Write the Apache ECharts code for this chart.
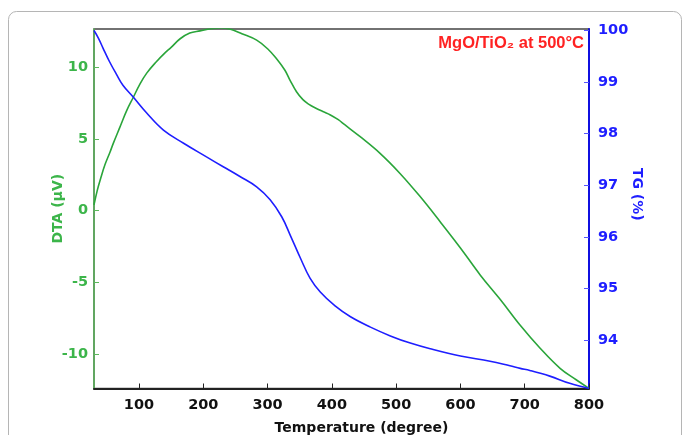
<!DOCTYPE html>
<html>
<head>
<meta charset="utf-8">
<script src="https://cdn.jsdelivr.net/npm/echarts@6/dist/echarts.min.js"></script>
<style>
html,body{margin:0;padding:0;background:#fff;}
#c{width:683px;height:435px;}
</style>
</head>
<body>
<div id="c"></div>
<script>
// Temperature ticks
var xTicks = [100, 200, 300, 400, 500, 600, 700, 800];
var dtaTicks = [-10, -5, 0, 5, 10];
var tgTicks = [94, 95, 96, 97, 98, 99, 100];

// DTA curve (µV) vs temperature
var dtaTemp = [30, 35, 40, 47, 55, 60, 70, 81, 91, 101, 112, 127, 140, 150, 164, 179, 195, 215, 228, 241, 260, 283, 300, 314, 327, 335, 345, 355, 365, 373, 387, 397, 410, 420, 443, 475, 506, 537, 569, 600, 631, 662, 693, 724, 755, 780, 800];
var dtaVal  = [0.4, 1.4, 2.2, 3.2, 4.1, 4.7, 5.8, 7.0, 7.9, 8.8, 9.6, 10.4, 11.0, 11.4, 12.0, 12.4, 12.55, 12.72, 12.75, 12.68, 12.35, 11.9, 11.3, 10.6, 9.8, 9.1, 8.3, 7.75, 7.4, 7.2, 6.9, 6.7, 6.35, 6.0, 5.2, 4.0, 2.6, 1.0, -0.8, -2.6, -4.5, -6.2, -8.0, -9.6, -11.0, -11.8, -12.4];

// TG curve (%) vs temperature
var tgTemp = [30, 37, 44, 54, 65, 75, 91, 112, 138, 170, 205, 231, 257, 283, 304, 322, 335, 351, 366, 382, 405, 429, 460, 491, 522, 553, 600, 646, 677, 693, 708, 739, 770, 800];
var tgVal  = [100.0, 99.85, 99.66, 99.40, 99.15, 98.94, 98.71, 98.40, 98.07, 97.81, 97.55, 97.36, 97.17, 96.97, 96.72, 96.39, 96.04, 95.59, 95.20, 94.93, 94.66, 94.45, 94.25, 94.08, 93.94, 93.83, 93.69, 93.59, 93.50, 93.45, 93.41, 93.30, 93.16, 93.06];

var dtaData = dtaTemp.map(function(t, i){ return [t, dtaVal[i]]; });
var tgData = tgTemp.map(function(t, i){ return [t, tgVal[i]]; });

var green = '#2aa53a';
var greenLbl = '#3cb54a';
var blue = '#1e1eff';
var font = '"DejaVu Sans", Verdana, sans-serif';
var titleFont = '"Liberation Sans", Arial, sans-serif';

var chart = echarts.init(document.getElementById('c'), null, {renderer: 'canvas'});
chart.setOption({
  animation: false,
  backgroundColor: '#fff',
  title: {
    text: 'MgO/TiO\u2082 at 500\u00B0C',
    right: 94, top: 30,
    textStyle: {color: '#ff2222', fontSize: 16.5, fontWeight: 'bold', fontFamily: titleFont}
  },
  graphic: [{
    type: 'rect',
    shape: {x: 8.5, y: 11.5, width: 673, height: 460, r: 8},
    style: {fill: 'none', stroke: '#b5b5b5', lineWidth: 1},
    silent: true, z: -1
  }],
  grid: {left: 94, right: 94, top: 29, bottom: 46.5, outerBoundsMode: 'none', containLabel: false,
         show: true, borderColor: '#444', borderWidth: 1.5, backgroundColor: 'transparent'},
  xAxis: {
    type: 'value', min: 30, max: 800,
    name: 'Temperature (degree)', nameLocation: 'middle', nameGap: 33, nameMoveOverlap: false,
    nameTextStyle: {color: '#111', fontSize: 14, fontWeight: 'bold', fontFamily: font, padding: [0, 0, 0, 40]},
    axisLine: {show: true, onZero: false, lineStyle: {color: '#222', width: 2}},
    axisTick: {show: true, inside: true, length: 5, customValues: xTicks, lineStyle: {color: '#222', width: 1}},
    axisLabel: {customValues: xTicks, color: '#111', fontSize: 14.5, fontWeight: 'bold', fontFamily: font, margin: 9},
    splitLine: {show: false}
  },
  yAxis: [{
    type: 'value', min: -12.41, max: 12.68, position: 'left',
    name: 'DTA (\u00B5V)', nameLocation: 'middle', nameGap: 29, nameRotate: 90, nameMoveOverlap: false,
    nameTextStyle: {color: greenLbl, fontSize: 14, fontWeight: 'bold', fontFamily: font},
    axisLine: {show: true, onZero: false, lineStyle: {color: '#5cb85c', width: 1.5}},
    axisTick: {show: true, inside: true, length: 5, customValues: dtaTicks, lineStyle: {color: '#5cb85c', width: 1}},
    axisLabel: {customValues: dtaTicks, color: greenLbl, fontSize: 14.5, fontWeight: 'bold', fontFamily: font, margin: 6},
    splitLine: {show: false}
  }, {
    type: 'value', min: 93.06, max: 100.03, position: 'right',
    name: 'TG (%)', nameLocation: 'middle', nameGap: 41, nameRotate: -90, nameMoveOverlap: false,
    nameTextStyle: {color: blue, fontSize: 14, fontWeight: 'bold', fontFamily: font, padding: [0, 29, 0, 0]},
    axisLine: {show: true, onZero: false, lineStyle: {color: '#1010e0', width: 2}},
    axisTick: {show: true, inside: true, length: 5, customValues: tgTicks, lineStyle: {color: '#5555ff', width: 1}},
    axisLabel: {customValues: tgTicks, color: blue, fontSize: 14.5, fontWeight: 'bold', fontFamily: font, margin: 9},
    splitLine: {show: false}
  }],
  series: [{
    type: 'line', yAxisIndex: 0, data: dtaData, smooth: 0.4, showSymbol: false,
    lineStyle: {color: green, width: 1.6}, z: 3
  }, {
    type: 'line', yAxisIndex: 1, data: tgData, smooth: 0.4, showSymbol: false,
    lineStyle: {color: blue, width: 1.6}, z: 4
  }]
});
</script>
</body>
</html>
